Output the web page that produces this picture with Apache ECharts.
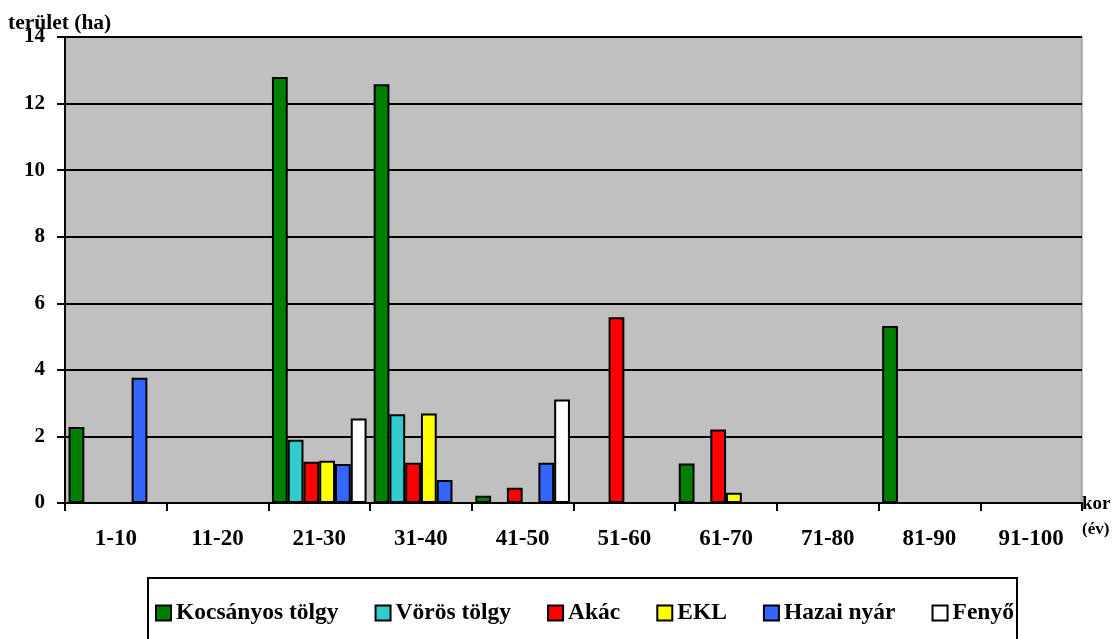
<!DOCTYPE html>
<html>
<head>
<meta charset="utf-8">
<script src="https://cdn.jsdelivr.net/npm/echarts@6/dist/echarts.min.js"></script>
<style>
  html, body { margin: 0; padding: 0; background: #fff; }
  #main { width: 1118px; height: 639px; }
</style>
</head>
<body>
<div id="main"></div>
<script>
// age classes (kor, év)
var categories = ['1-10', '11-20', '21-30', '31-40', '41-50', '51-60', '61-70', '71-80', '81-90', '91-100']
var yTicks = [0, 2, 4, 6, 8, 10, 12, 14]

// area (ha) per species, null = no bar
var kocsanyosTolgy = [2.28, null, 12.8, 12.58, 0.22, null, 1.19, null, 5.32, null]
var vorosTolgy = [null, null, 1.9, 2.67, null, null, null, null, null, null]
var akac = [null, null, 1.24, 1.21, 0.46, 5.58, 2.21, null, null, null]
var ekl = [null, null, 1.27, 2.69, null, null, 0.31, null, null, null]
var hazaiNyar = [3.76, null, 1.17, 0.69, 1.21, null, null, null, null, null]
var fenyo = [null, null, 2.54, null, 3.11, null, null, null, null, null]

var seriesNames = ['Kocsányos tölgy', 'Vörös tölgy', 'Akác', 'EKL', 'Hazai nyár', 'Fenyő']
var seriesData = [kocsanyosTolgy, vorosTolgy, akac, ekl, hazaiNyar, fenyo]
var seriesColors = ['#008000', '#33CCCC', '#FF0000', '#FFFF00', '#3366FF', '#FFFFFF']

var font = '"Liberation Serif", "Times New Roman", serif'

var myChart = echarts.init(document.getElementById('main'))

var series = seriesNames.map(function (name, i) {
  return {
    name: name,
    type: 'bar',
    barGap: '0%',
    barCategoryGap: '7%',
    itemStyle: {
      color: seriesColors[i],
      borderColor: '#000',
      borderWidth: 2
    },
    data: seriesData[i],
    animation: false
  }
})

var option = {
  backgroundColor: '#fff',
  textStyle: { fontFamily: font },
  grid: {
    left: 65,
    right: 36,
    top: 37,
    bottom: 136,
    show: true,
    backgroundColor: '#C0C0C0',
    borderColor: '#808080',
    borderWidth: 1
  },
  legend: {
    left: 150,
    top: 596,
    itemWidth: 15,
    itemHeight: 15,
    itemGap: 36,
    icon: 'rect',
    data: seriesNames,
    itemStyle: { borderColor: '#000', borderWidth: 2 },
    textStyle: {
      fontFamily: font,
      fontWeight: 'bold',
      fontSize: 23.5,
      color: '#000'
    }
  },
  xAxis: {
    type: 'category',
    data: categories,
    axisLine: { lineStyle: { color: '#000', width: 2 } },
    axisTick: { show: true, length: 8, lineStyle: { color: '#000', width: 2 } },
    axisLabel: {
      color: '#000',
      fontFamily: font,
      fontWeight: 'bold',
      fontSize: 23,
      margin: 25
    },
    splitLine: { show: false }
  },
  yAxis: {
    type: 'value',
    min: 0,
    max: 14,
    interval: 2,
    axisLine: { show: true, lineStyle: { color: '#000', width: 2 } },
    axisTick: { show: true, length: 8, lineStyle: { color: '#000', width: 2 } },
    axisLabel: {
      color: '#000',
      fontFamily: font,
      fontWeight: 'bold',
      fontSize: 21,
      margin: 20,
      formatter: function (v) { return yTicks.indexOf(v) >= 0 ? String(v) : '' }
    },
    splitLine: { show: true, lineStyle: { color: '#000', width: 2 } }
  },
  graphic: [
    {
      type: 'text',
      left: 8,
      top: 12,
      style: { text: 'terület (ha)', fontFamily: font, fontWeight: 'bold', fontSize: 21.5, fill: '#000' }
    },
    {
      type: 'text',
      left: 1082,
      top: 495,
      style: { text: 'kor', fontFamily: font, fontWeight: 'bold', fontSize: 19, fill: '#000' }
    },
    {
      type: 'text',
      left: 1082,
      top: 521,
      style: { text: '(év)', fontFamily: font, fontWeight: 'bold', fontSize: 17, fill: '#000' }
    },
    {
      type: 'rect',
      shape: { x: 148, y: 578, width: 869, height: 90 },
      style: { fill: 'none', stroke: '#000', lineWidth: 2 },
      z: 10
    }
  ],
  series: series
}

myChart.setOption(option)
</script>
</body>
</html>
